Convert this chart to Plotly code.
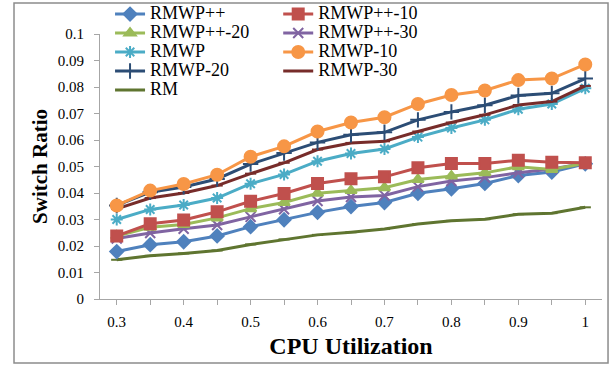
import plotly.graph_objects as go

x_vals = [0.3, 0.35, 0.4, 0.45, 0.5, 0.55, 0.6, 0.65, 0.7, 0.75, 0.8, 0.85, 0.9, 0.95, 1.0]
x_labels = ["0.3", "", "0.4", "", "0.5", "", "0.6", "", "0.7", "", "0.8", "", "0.9", "", "1"]

rmwp_pp = [0.0179, 0.0205, 0.0216, 0.0238, 0.0273, 0.0299, 0.0327, 0.0349, 0.0364, 0.0399, 0.0416, 0.0436, 0.0466, 0.0479, 0.0510]
rmwp_pp_10 = [0.0238, 0.0284, 0.0298, 0.0329, 0.0369, 0.0398, 0.0436, 0.0454, 0.0461, 0.0495, 0.0511, 0.0511, 0.0524, 0.0516, 0.0514]
rmwp_pp_20 = [0.0238, 0.0271, 0.0281, 0.0306, 0.0341, 0.0364, 0.0399, 0.0409, 0.0420, 0.0451, 0.0464, 0.0476, 0.0499, 0.0489, 0.0512]
rmwp_pp_30 = [0.0228, 0.0249, 0.0265, 0.0279, 0.0310, 0.0339, 0.0370, 0.0385, 0.0391, 0.0424, 0.0445, 0.0458, 0.0476, 0.0491, 0.0512]
rmwp = [0.0300, 0.0338, 0.0355, 0.0381, 0.0435, 0.0470, 0.0520, 0.0549, 0.0566, 0.0611, 0.0645, 0.0676, 0.0716, 0.0736, 0.0795]
rmwp_10 = [0.0353, 0.0409, 0.0434, 0.0469, 0.0537, 0.0576, 0.0632, 0.0666, 0.0686, 0.0736, 0.0770, 0.0787, 0.0826, 0.0832, 0.0885]
rmwp_20 = [0.0353, 0.0403, 0.0423, 0.0453, 0.0509, 0.0551, 0.0591, 0.0620, 0.0629, 0.0676, 0.0706, 0.0731, 0.0768, 0.0776, 0.0832]
rmwp_30 = [0.0340, 0.0381, 0.0400, 0.0428, 0.0473, 0.0514, 0.0564, 0.0589, 0.0595, 0.0632, 0.0666, 0.0695, 0.0732, 0.0745, 0.0804]
rm = [0.0148, 0.0163, 0.0172, 0.0183, 0.0206, 0.0225, 0.0242, 0.0252, 0.0264, 0.0283, 0.0295, 0.0301, 0.0320, 0.0324, 0.0346]

FONT = "Liberation Serif"

# name, data, color, symbol, size, legend
series = [
    ("RMWP++", rmwp_pp, "#4F81BD", "diamond", 10, "legend"),
    ("RMWP++-20", rmwp_pp_20, "#9BBB59", "triangle-up", 10, "legend"),
    ("RMWP", rmwp, "#4BACC6", "asterisk-open", 10, "legend"),
    ("RMWP-20", rmwp_20, "#2C4D75", "cross-thin-open", 11, "legend"),
    ("RM", rm, "#5F7530", "line-ew-open", 8, "legend"),
    ("RMWP++-10", rmwp_pp_10, "#C0504D", "square", 11, "legend2"),
    ("RMWP++-30", rmwp_pp_30, "#8064A2", "x-thin-open", 10, "legend2"),
    ("RMWP-10", rmwp_10, "#F79646", "circle", 12, "legend2"),
    ("RMWP-30", rmwp_30, "#772C2A", "line-ew-open", 8, "legend2"),
]

draw_order = ["RM", "RMWP++", "RMWP++-30", "RMWP++-20", "RMWP++-10", "RMWP", "RMWP-30", "RMWP-20", "RMWP-10"]
legend_rank = {s[0]: i for i, s in enumerate(series)}

fig = go.Figure()
for name in draw_order:
    s = next(t for t in series if t[0] == name)
    nm, data, color, sym, size, leg = s
    fig.add_trace(go.Scatter(
        x=x_vals, y=data, name='<span style="font-size:18px">' + nm + '</span>',
        mode="lines+markers",
        line=dict(color=color, width=3),
        marker=dict(symbol=sym, size=size, color=color, line=dict(color=color, width=2)),
        legend=leg, legendrank=legend_rank[nm],
    ))

legend_common = dict(
    font=dict(family=FONT, size=12, color="black"),
    bgcolor="rgba(0,0,0,0)", tracegroupgap=0, itemwidth=30,
    orientation="v", xanchor="left", yanchor="top", traceorder="normal",
)

fig.update_layout(
    width=612, height=366,
    margin=dict(l=100, r=10, t=34, b=67, autoexpand=False),
    paper_bgcolor="white", plot_bgcolor="white",
    font=dict(family=FONT, size=15, color="black"),
    showlegend=True,
    legend=dict(x=0.02, y=1.13, **legend_common),
    legend2=dict(x=0.355, y=1.13, **legend_common),
    xaxis=dict(
        range=[0.275, 1.025], tickvals=x_vals, ticktext=x_labels,
        ticks="outside", ticklen=5, tickcolor="#A6A6A6",
        showline=True, linecolor="#A6A6A6", linewidth=1, showgrid=False, zeroline=False,
        tickfont=dict(family=FONT, size=15), ticklabelstandoff=4,
        title=dict(text="<b>CPU Utilization</b>", font=dict(family=FONT, size=24), standoff=8),
    ),
    yaxis=dict(
        range=[0, 0.1], dtick=0.01, tick0=0,
        ticks="outside", ticklen=5, tickcolor="#A6A6A6",
        showline=True, linecolor="#A6A6A6", linewidth=1, showgrid=False, zeroline=False,
        tickfont=dict(family=FONT, size=15), ticklabelstandoff=7,
        title=dict(text="<b>Switch Ratio</b>", font=dict(family=FONT, size=21), standoff=4),
    ),
    shapes=[dict(
        type="rect", xref="paper", yref="paper",
        x0=-0.1713, x1=1.012, y0=-0.2415, y1=1.117,
        line=dict(color="#8C8C8C", width=1.5), layer="below",
    )],
)

fig.write_html("out.html")
